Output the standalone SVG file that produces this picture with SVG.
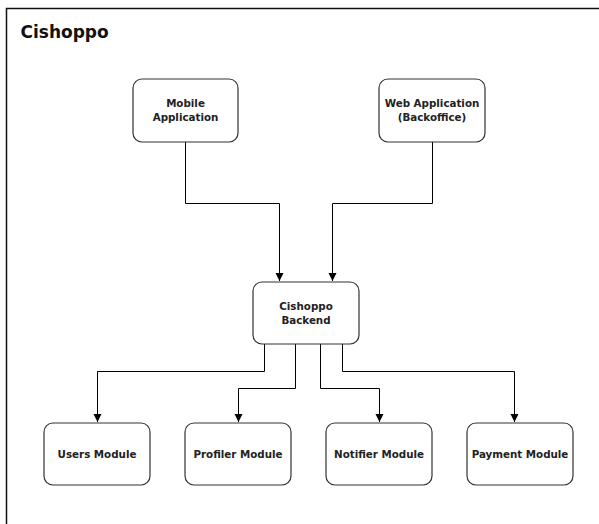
<svg xmlns="http://www.w3.org/2000/svg" width="599" height="524" viewBox="0 0 599 524">
<defs>
<marker id="arr" markerWidth="10" markerHeight="10" refX="8" refY="4" orient="auto" markerUnits="userSpaceOnUse">
<path d="M0,0 L8,4 L0,8 Z" fill="#000"/>
</marker>
<style>
.node rect{fill:#fff;stroke:#333;stroke-width:1.2}
.node text{font-family:"DejaVu Sans",Verdana,sans-serif;font-weight:bold;font-size:10.3px;fill:#222;text-anchor:middle}
.conn path{fill:none;stroke:#000;stroke-width:1;marker-end:url(#arr)}
</style>
</defs>
<rect width="599" height="524" fill="#fff"/>
<path d="M6.5,524 V8.5 H599" fill="none" stroke="#111" stroke-width="1.5"/>
<text x="20.5" y="38" font-family="DejaVu Sans,Verdana,sans-serif" font-weight="bold" font-size="17" fill="#111">Cishoppo</text>
<g class="conn">
<path d="M185.5,142 V203.5 H279.5 V281"/>
<path d="M432.5,142 V203.5 H332.5 V281"/>
<path d="M264.5,344 V371.5 H97.5 V422"/>
<path d="M295.5,344 V388.5 H238.5 V422"/>
<path d="M320.5,344 V388.5 H379.5 V422"/>
<path d="M342.5,344 V371.5 H514.5 V422"/>
</g>
<g id="mobile" class="node"><rect x="133" y="79" width="105" height="63" rx="9"/><text x="185.5" y="107">Mobile</text><text x="185.5" y="121">Application</text></g>
<g id="web" class="node"><rect x="379" y="79" width="106" height="63" rx="9"/><text x="432" y="107">Web Application</text><text x="432" y="121">(Backoffice)</text></g>
<g id="backend" class="node"><rect x="253" y="282" width="106" height="62" rx="9"/><text x="306" y="310">Cishoppo</text><text x="306" y="324">Backend</text></g>
<g id="users" class="node"><rect x="44" y="423" width="106" height="62" rx="9"/><text x="97" y="458">Users Module</text></g>
<g id="profiler" class="node"><rect x="185" y="423" width="106" height="62" rx="9"/><text x="238" y="458">Profiler Module</text></g>
<g id="notifier" class="node"><rect x="326" y="423" width="106" height="62" rx="9"/><text x="379" y="458">Notifier Module</text></g>
<g id="payment" class="node"><rect x="467" y="423" width="106" height="62" rx="9"/><text x="520" y="458">Payment Module</text></g>
</svg>
